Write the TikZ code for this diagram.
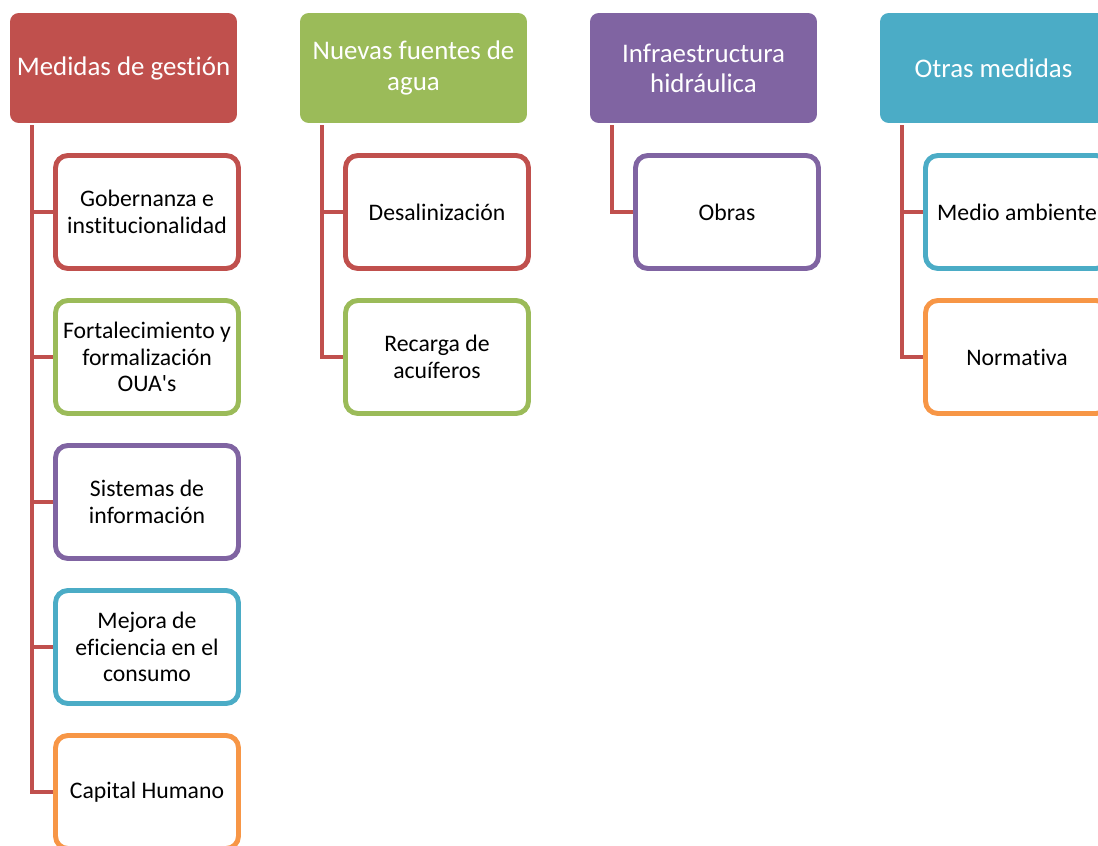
\documentclass[tikz,border=0pt]{standalone}
\usepackage{fontspec}
\setmainfont{Carlito}[Ligatures={TeXOff,CommonOff}]
\usetikzlibrary{positioning}
\definecolor{AccRed}{HTML}{C0504D}
\definecolor{AccGreen}{HTML}{9BBB59}
\definecolor{AccPurple}{HTML}{8064A2}
\definecolor{AccTeal}{HTML}{4BACC6}
\definecolor{AccOrange}{HTML}{F79646}
\tikzset{
  head/.style={fill=#1,rounded corners=5pt,minimum width=4.54cm,
    minimum height=2.2cm,align=center,text=white,inner sep=2pt,
    font=\fontsize{15.3}{17.2}\selectfont},
  item/.style={draw=#1,fill=white,line width=2.8pt,rounded corners=7pt,
    minimum width=3.66cm,minimum height=2.26cm,align=center,inner sep=1pt,
    font=\fontsize{13.5}{15}\selectfont},
  link/.style={AccRed,line width=2.3pt}
}

\begin{document}
\begin{tikzpicture}[x=0.02cm,y=-0.02cm]
  \useasboundingbox (0,0) rectangle (1098,845);
  \clip (0,0) rectangle (1098,845);

  % column headers
  \node[head=AccRed]    (gestion) at (123.5,68) {Medidas de gestión};
  \node[head=AccGreen]  (fuentes) at (413.5,68) {Nuevas fuentes de\\agua};
  \node[head=AccPurple] (infra)   at (703.5,68) {Infraestructura\\hidráulica};
  \node[head=AccTeal]   (otras)   at (993.5,68) {Otras medidas};

  % Medidas de gestion
  \node[item=AccRed]    (gob)  at (147,212) {Gobernanza e\\institucionalidad};
  \node[item=AccGreen]  (oua)  at (147,357) {Fortalecimiento y\\formalización\\OUA's};
  \node[item=AccPurple] (sist) at (147,502) {Sistemas de\\información};
  \node[item=AccTeal]   (efic) at (147,647) {Mejora de\\eficiencia en el\\consumo};
  \node[item=AccOrange] (cap)  at (147,792) {Capital Humano};

  % Nuevas fuentes
  \node[item=AccRed]   (desal) at (437,212) {Desalinización};
  \node[item=AccGreen] (rec)   at (437,357) {Recarga de\\acuíferos};

  % Infraestructura
  \node[item=AccPurple] (obras) at (727,212) {Obras};

  % Otras medidas
  \node[item=AccTeal]   (amb)  at (1017,212) {Medio ambiente};
  \node[item=AccOrange] (norm) at (1017,357) {Normativa};

  % connectors
  \foreach \h/\c in {gestion/gob,gestion/oua,gestion/sist,gestion/efic,gestion/cap,
                     fuentes/desal,fuentes/rec,infra/obras,otras/amb,otras/norm}
    \draw[link] ([shift={(22,2)}]\h.south west) |- (\c.west);
\end{tikzpicture}
\end{document}
